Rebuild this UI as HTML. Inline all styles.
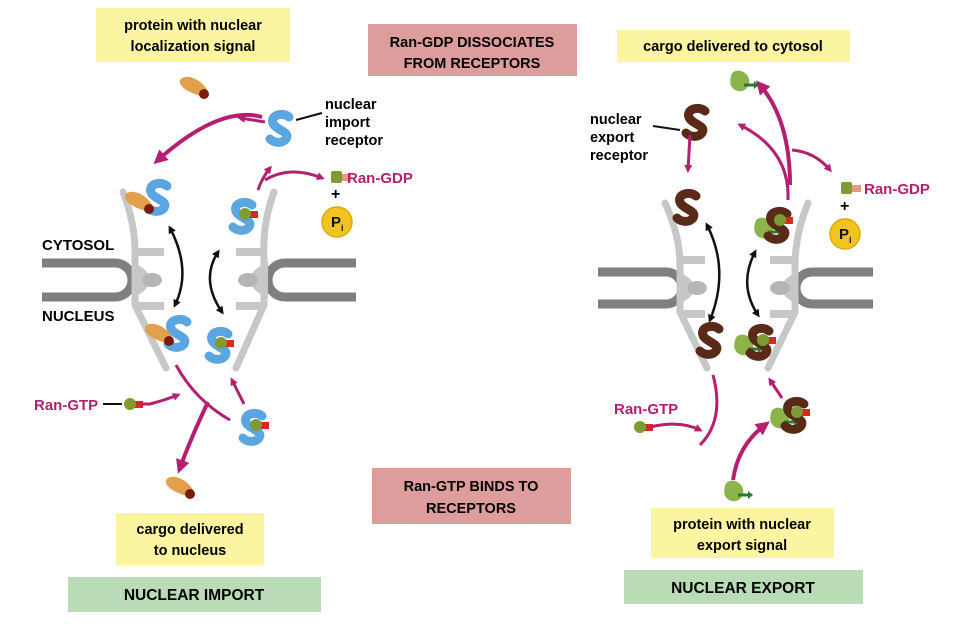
<!DOCTYPE html>
<html><head><meta charset="utf-8"><style>
body{margin:0;background:#fff;}
svg{display:block;font-family:"Liberation Sans",sans-serif;}
.b{font-weight:bold;}
</style></head><body>
<svg width="962" height="636" viewBox="0 0 962 636" xmlns="http://www.w3.org/2000/svg">
<defs>
<marker id="m" markerWidth="8" markerHeight="8" refX="5" refY="4" orient="auto" markerUnits="userSpaceOnUse"><path d="M0,0 L8,4 L0,8 Z" fill="#b51f70"/></marker>
<marker id="mb" markerWidth="14" markerHeight="14" refX="8" refY="7" orient="auto" markerUnits="userSpaceOnUse"><path d="M0,0 L14,7 L0,14 Z" fill="#b51f70"/></marker>
<marker id="k" markerWidth="8" markerHeight="8" refX="5" refY="4" orient="auto-start-reverse" markerUnits="userSpaceOnUse"><path d="M0,0 L8,4 L0,8 Z" fill="#111"/></marker>
<g id="sb"><path d="M9,-11 C2,-17 -12,-12 -6,-3 C-1,3 10,4 6,11 C2,16 -6,15 -10,11" fill="none" stroke="#5aa6e0" stroke-width="9" stroke-linecap="round"/></g>
<g id="sr"><path d="M9,-11 C2,-17 -12,-12 -6,-3 C-1,3 10,4 6,11 C2,16 -6,15 -10,11" fill="none" stroke="#5a2a18" stroke-width="9" stroke-linecap="round"/></g>
<g id="cargo"><path d="M-20,-10 C-14,-18 2,-10 7,0 L5,7 C-4,5 -22,-1 -20,-10 Z" fill="#e3a04c"/><circle cx="4" cy="4" r="5" fill="#7a1a10"/></g>
<g id="gtp"><rect x="2" y="-3" width="11" height="7" fill="#d42a20"/><circle cx="0" cy="0" r="6" fill="#7e9b34"/></g>
<g id="gdp"><rect x="4" y="-3" width="10" height="7" fill="#e49a80"/><rect x="-6" y="-6" width="11" height="12" rx="2" fill="#7e9b34"/></g>
<g id="ecargo"><path d="M-13,-7 C-11,-16 3,-13 5,-4 C7,5 -2,11 -9,7 C-15,3 -14,-2 -13,-7 Z" fill="#8db44a"/><path d="M0,2 L12,2" stroke="#2a7a30" stroke-width="3"/><path d="M10,-2 L15,2 L10,6 Z" fill="#2a7a30"/></g>
<g id="pi"><circle r="15" fill="#f2c420" stroke="#e0a800" stroke-width="1.5"/><text x="-6" y="5" class="b" font-size="15" fill="#111">P</text><text x="4" y="9" class="b" font-size="9" fill="#111">i</text></g>
</defs>

<rect x="96" y="8" width="194" height="54" fill="#fbf4a0"/>
<text x="193" y="30" text-anchor="middle" class="b" font-size="14.5">protein with nuclear</text>
<text x="193" y="51" text-anchor="middle" class="b" font-size="14.5">localization signal</text>
<rect x="368" y="24" width="209" height="52" fill="#dc9d9c"/>
<text x="472" y="47" text-anchor="middle" class="b" font-size="14.5">Ran-GDP DISSOCIATES</text>
<text x="472" y="68" text-anchor="middle" class="b" font-size="14.5">FROM RECEPTORS</text>
<rect x="617" y="30" width="233" height="32" fill="#fbf4a0"/>
<text x="733" y="51" text-anchor="middle" class="b" font-size="14.5">cargo delivered to cytosol</text>
<rect x="372" y="468" width="199" height="56" fill="#dc9d9c"/>
<text x="471" y="491" text-anchor="middle" class="b" font-size="14.5">Ran-GTP BINDS TO</text>
<text x="471" y="513" text-anchor="middle" class="b" font-size="14.5">RECEPTORS</text>
<rect x="116" y="513" width="148" height="52" fill="#fbf4a0"/>
<text x="190" y="534" text-anchor="middle" class="b" font-size="14.5">cargo delivered</text>
<text x="190" y="555" text-anchor="middle" class="b" font-size="14.5">to nucleus</text>
<rect x="651" y="508" width="183" height="50" fill="#fbf4a0"/>
<text x="742" y="529" text-anchor="middle" class="b" font-size="14.5">protein with nuclear</text>
<text x="742" y="550" text-anchor="middle" class="b" font-size="14.5">export signal</text>
<rect x="68" y="577" width="253" height="35" fill="#b9dcb6"/>
<text x="194" y="600" text-anchor="middle" class="b" font-size="15.5">NUCLEAR IMPORT</text>
<rect x="624" y="570" width="239" height="34" fill="#b9dcb6"/>
<text x="743" y="593" text-anchor="middle" class="b" font-size="15.5">NUCLEAR EXPORT</text>

<g fill="none" stroke="#7d7f80" stroke-width="9">
<path d="M42,263 H115 A17,17 0 0 1 115,297 H42"/>
<path d="M356,263 H285 A17,17 0 0 0 285,297 H356"/>
</g>
<g fill="none" stroke="#c6c8c8" stroke-width="7" stroke-linecap="round">
<path d="M123,192 Q136,225 135,258 V305 L166,368"/>
<path d="M274,192 Q262,225 264,258 V305 L236,368"/>
</g>
<g fill="#c6c8c8">
<rect x="134" y="248" width="30" height="8"/><rect x="134" y="302" width="30" height="8"/>
<rect x="236" y="248" width="30" height="8"/><rect x="236" y="302" width="30" height="8"/>
<path d="M132,262 Q150,270 150,280 Q150,290 132,298 Z"/>
<path d="M268,262 Q250,270 250,280 Q250,290 268,298 Z"/>
</g>
<ellipse cx="152" cy="280" rx="10" ry="7" fill="#b4b6b6"/>
<ellipse cx="248" cy="280" rx="10" ry="7" fill="#b4b6b6"/>

<use href="#sb" x="158" y="197"/><use href="#cargo" x="145" y="205"/>
<use href="#sb" x="243" y="216"/><use href="#gtp" x="245" y="214"/>
<use href="#sb" x="178" y="333"/><use href="#cargo" x="165" y="337"/>
<use href="#sb" x="219" y="345"/><use href="#gtp" x="221" y="343"/>
<use href="#sb" x="280" y="128"/>
<use href="#sb" x="253" y="427"/><use href="#gtp" x="256" y="425"/>
<use href="#cargo" x="200" y="90"/>
<use href="#cargo" x="186" y="490"/>
<use href="#gtp" x="130" y="404"/>
<use href="#gdp" x="337" y="177"/>
<use href="#pi" x="337" y="222"/>
<text x="331" y="199" class="b" font-size="16">+</text>

<path d="M170,228 Q192,270 175,305" fill="none" stroke="#111" stroke-width="2.5" marker-start="url(#k)" marker-end="url(#k)"/>
<path d="M218,252 Q200,280 222,312" fill="none" stroke="#111" stroke-width="2.5" marker-start="url(#k)" marker-end="url(#k)"/>

<g fill="none" stroke="#b51f70" stroke-width="3">
<path d="M262,117 Q220,105 158,160" stroke-width="4" marker-end="url(#mb)"/>
<path d="M265,122 L240,118" marker-end="url(#m)"/>
<path d="M258,190 Q262,178 270,168" marker-end="url(#m)"/>
<path d="M265,180 Q290,165 322,178" marker-end="url(#m)"/>
<path d="M176,365 Q195,400 230,420" />
<path d="M208,402 Q190,440 180,468" stroke-width="4" marker-end="url(#mb)"/>
<path d="M140,404 H150 Q165,400 178,395" marker-end="url(#m)"/>
<path d="M244,404 L232,380" marker-end="url(#m)"/>
</g>
<path d="M103,404 H122" stroke="#111" stroke-width="2"/>
<text x="34" y="410" class="b" font-size="15" fill="#b51f70">Ran-GTP</text>
<text x="347" y="183" class="b" font-size="15" fill="#b51f70">Ran-GDP</text>
<text x="42" y="250" class="b" font-size="15">CYTOSOL</text>
<text x="42" y="321" class="b" font-size="15">NUCLEUS</text>
<text x="325" y="109" class="b" font-size="14.5">nuclear</text>
<text x="325" y="127" class="b" font-size="14.5">import</text>
<text x="325" y="145" class="b" font-size="14.5">receptor</text>
<path d="M322,113 L296,120" stroke="#111" stroke-width="2"/>

<g fill="none" stroke="#7d7f80" stroke-width="9">
<path d="M598,272 H666 A16,16 0 0 1 666,304 H598"/>
<path d="M873,272 H812 A16,16 0 0 0 812,304 H873"/>
</g>
<g fill="none" stroke="#c6c8c8" stroke-width="7" stroke-linecap="round">
<path d="M665,203 Q680,235 680,266 V312 L707,368"/>
<path d="M808,203 Q795,235 795,266 V312 L768,368"/>
</g>
<g fill="#c6c8c8">
<rect x="679" y="256" width="26" height="8"/><rect x="679" y="310" width="26" height="8"/>
<rect x="770" y="256" width="26" height="8"/><rect x="770" y="310" width="26" height="8"/>
<path d="M678,272 Q694,278 694,288 Q694,298 678,304 Z"/>
<path d="M798,272 Q782,278 782,288 Q782,298 798,304 Z"/>
</g>
<ellipse cx="697" cy="288" rx="10" ry="7" fill="#b4b6b6"/>
<ellipse cx="780" cy="288" rx="10" ry="7" fill="#b4b6b6"/>

<use href="#sr" x="687" y="207"/>
<use href="#ecargo" x="768" y="230"/><use href="#sr" x="778" y="225"/><use href="#gtp" x="780" y="220"/>
<use href="#sr" x="710" y="340"/>
<use href="#ecargo" x="748" y="347"/><use href="#sr" x="760" y="342"/><use href="#gtp" x="763" y="340"/>
<use href="#sr" x="696" y="122"/>
<use href="#ecargo" x="784" y="420"/><use href="#sr" x="795" y="415"/><use href="#gtp" x="797" y="412"/>
<use href="#ecargo" x="744" y="83"/>
<use href="#ecargo" x="738" y="493"/>
<use href="#gtp" x="640" y="427"/>
<use href="#gdp" x="847" y="188"/>
<use href="#pi" x="845" y="234"/>
<text x="840" y="211" class="b" font-size="16">+</text>

<path d="M707,225 Q730,270 710,320" fill="none" stroke="#111" stroke-width="2.5" marker-start="url(#k)" marker-end="url(#k)"/>
<path d="M755,252 Q738,285 758,315" fill="none" stroke="#111" stroke-width="2.5" marker-start="url(#k)" marker-end="url(#k)"/>

<g fill="none" stroke="#b51f70" stroke-width="3">
<path d="M690,135 L688,170" marker-end="url(#m)"/>
<path d="M788,200 Q790,150 740,125" marker-end="url(#m)"/>
<path d="M790,185 Q790,120 760,85" stroke-width="4" marker-end="url(#mb)"/>
<path d="M792,150 Q815,152 830,170" marker-end="url(#m)"/>
<path d="M713,375 Q725,420 700,445"/>
<path d="M650,427 Q680,420 700,430" marker-end="url(#m)"/>
<path d="M733,480 Q738,445 765,425" stroke-width="4" marker-end="url(#mb)"/>
<path d="M782,398 L770,380" marker-end="url(#m)"/>
</g>
<text x="614" y="414" class="b" font-size="15" fill="#b51f70">Ran-GTP</text>
<text x="864" y="194" class="b" font-size="15" fill="#b51f70">Ran-GDP</text>
<text x="590" y="124" class="b" font-size="14.5">nuclear</text>
<text x="590" y="142" class="b" font-size="14.5">export</text>
<text x="590" y="160" class="b" font-size="14.5">receptor</text>
<path d="M653,126 L680,130" stroke="#111" stroke-width="2"/>
</svg>
</body></html>
